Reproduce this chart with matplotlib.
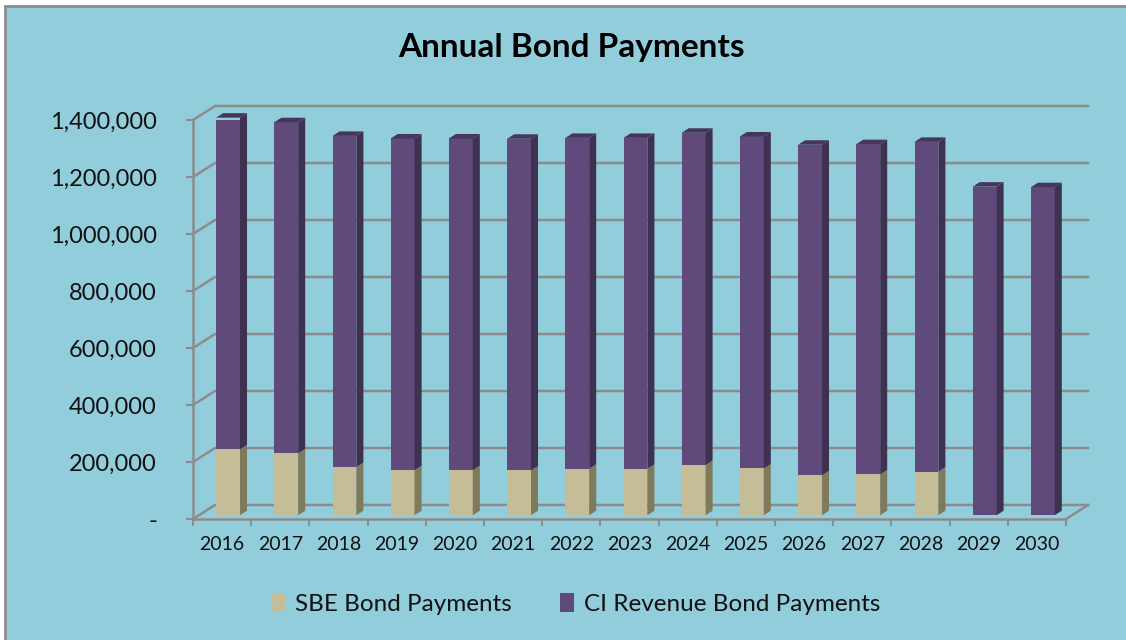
import numpy as np
import matplotlib.pyplot as plt
from matplotlib.patches import Polygon, Patch, Rectangle
from matplotlib.ticker import FuncFormatter

plt.rcParams['font.family'] = ['Lato', 'DejaVu Sans']

# data
years = ['2016', '2017', '2018', '2019', '2020', '2021', '2022', '2023',
         '2024', '2025', '2026', '2027', '2028', '2029', '2030']
sbe = [231000, 217000, 169000, 158000, 158000, 157000, 163000, 163000,
       176000, 164000, 140000, 143000, 153000, 0, 0]
ci = [1164000, 1162000, 1162000, 1164000, 1164000, 1164000, 1161000, 1161000,
      1166000, 1165000, 1160000, 1159000, 1157000, 1153000, 1151000]
y_ticks = [0, 200000, 400000, 600000, 800000, 1000000, 1200000, 1400000]

# colours
bg = '#92CDDC'
grid = '#8C8C8C'
tan, tan_side = '#C4BD97', '#7F7A5C'
purple, purple_side, purple_top = '#604A7B', '#3F3151', '#45365A'

W, H = 1126, 640
fig = plt.figure(figsize=(W / 100, H / 100), dpi=100)
fig.patch.set_facecolor('white')
fig.patches.append(Rectangle((5 / W, -0.1), 1.2, 1.1 - 6 / H, transform=fig.transFigure,
                             facecolor=bg, edgecolor=grid, linewidth=2, zorder=-10))

ax = fig.add_axes([193 / W, 1 - 519 / H, 873 / W, 399 / H])
ax.set_zorder(1)
ax.patch.set_visible(False)
n = len(years)
ax.set_xlim(-0.5, n - 0.5)
ax.set_ylim(0, y_ticks[-1])

# depth of the fake 3D box, in data units
px_x = 873 / n
px_y = 399 / y_ticks[-1]
DX = 22 / px_x
DY = 14 / px_y

# side wall + back wall gridlines
for v in y_ticks:
    ax.plot([-0.5, -0.5 + DX, n - 0.5 + DX], [v, v + DY, v + DY],
            color=grid, lw=1.8, clip_on=False, zorder=1)
ax.plot([n - 0.5, n - 0.5 + DX], [0, DY], color=grid, lw=1.8, clip_on=False, zorder=1)

# bars
f0, f1, w = 0.27, 0.59, 0.41
x = np.arange(n) + f0 * DX
base = f0 * DY
ddx, ddy = (f1 - f0) * DX, (f1 - f0) * DY
sbe_a = np.array(sbe)
ci_a = np.array(ci)
ax.bar(x, sbe_a, w, bottom=base, color=tan, linewidth=0, zorder=3)
ax.bar(x, ci_a, w, bottom=base + sbe_a, color=purple, linewidth=0, zorder=3)

for i in range(n):
    xl, xr = x[i] - w / 2, x[i] + w / 2
    segs = []
    if sbe[i] > 0:
        segs.append((base, base + sbe[i], tan_side))
    segs.append((base + sbe[i], base + sbe[i] + ci[i], purple_side))
    for y0, y1, c in segs:
        ax.add_patch(Polygon([(xr, y0), (xr + ddx, y0 + ddy), (xr + ddx, y1 + ddy), (xr, y1)],
                             closed=True, facecolor=c, edgecolor='none', zorder=3, clip_on=False))
    yt = base + sbe[i] + ci[i]
    ax.add_patch(Polygon([(xl, yt), (xr, yt), (xr + ddx, yt + ddy), (xl + ddx, yt + ddy)],
                         closed=True, facecolor=purple_top, edgecolor='none', zorder=3, clip_on=False))

# axes styling
for s in ['top', 'right']:
    ax.spines[s].set_visible(False)
for s in ['left', 'bottom']:
    ax.spines[s].set_color(grid)
    ax.spines[s].set_linewidth(1.8)
    ax.spines[s].set_zorder(2)

ax.set_yticks(y_ticks)
ax.yaxis.set_major_formatter(FuncFormatter(lambda v, p: '-' if v == 0 else f'{v:,.0f}'))
ax.tick_params(axis='y', direction='out', length=5, width=1.5, color=grid,
               pad=21, labelsize=17, labelcolor='#111111')

ax.set_xticks(np.arange(n))
ax.set_xticklabels(years)
ax.set_xticks(np.arange(-0.5, n, 1), minor=True)
ax.tick_params(axis='x', which='major', length=0, pad=12, labelsize=14, labelcolor='#111111')
ax.tick_params(axis='x', which='minor', direction='out', length=5, width=1.5, color=grid)

fig.text(572 / W, 1 - 48 / H, 'Annual Bond Payments', ha='center', va='center',
         fontsize=24, fontweight='bold', color='black')

handles = [Patch(facecolor=tan), Patch(facecolor=purple)]
fig.legend(handles, ['SBE Bond Payments', 'CI Revenue Bond Payments'],
           loc='center', bbox_to_anchor=(576 / W, 1 - 604 / H), ncol=2, frameon=False,
           handlelength=0.55, handleheight=0.8, handletextpad=0.4, columnspacing=2.0,
           fontsize=17.5, labelcolor='#111111')

plt.savefig('out.png', dpi=100)
